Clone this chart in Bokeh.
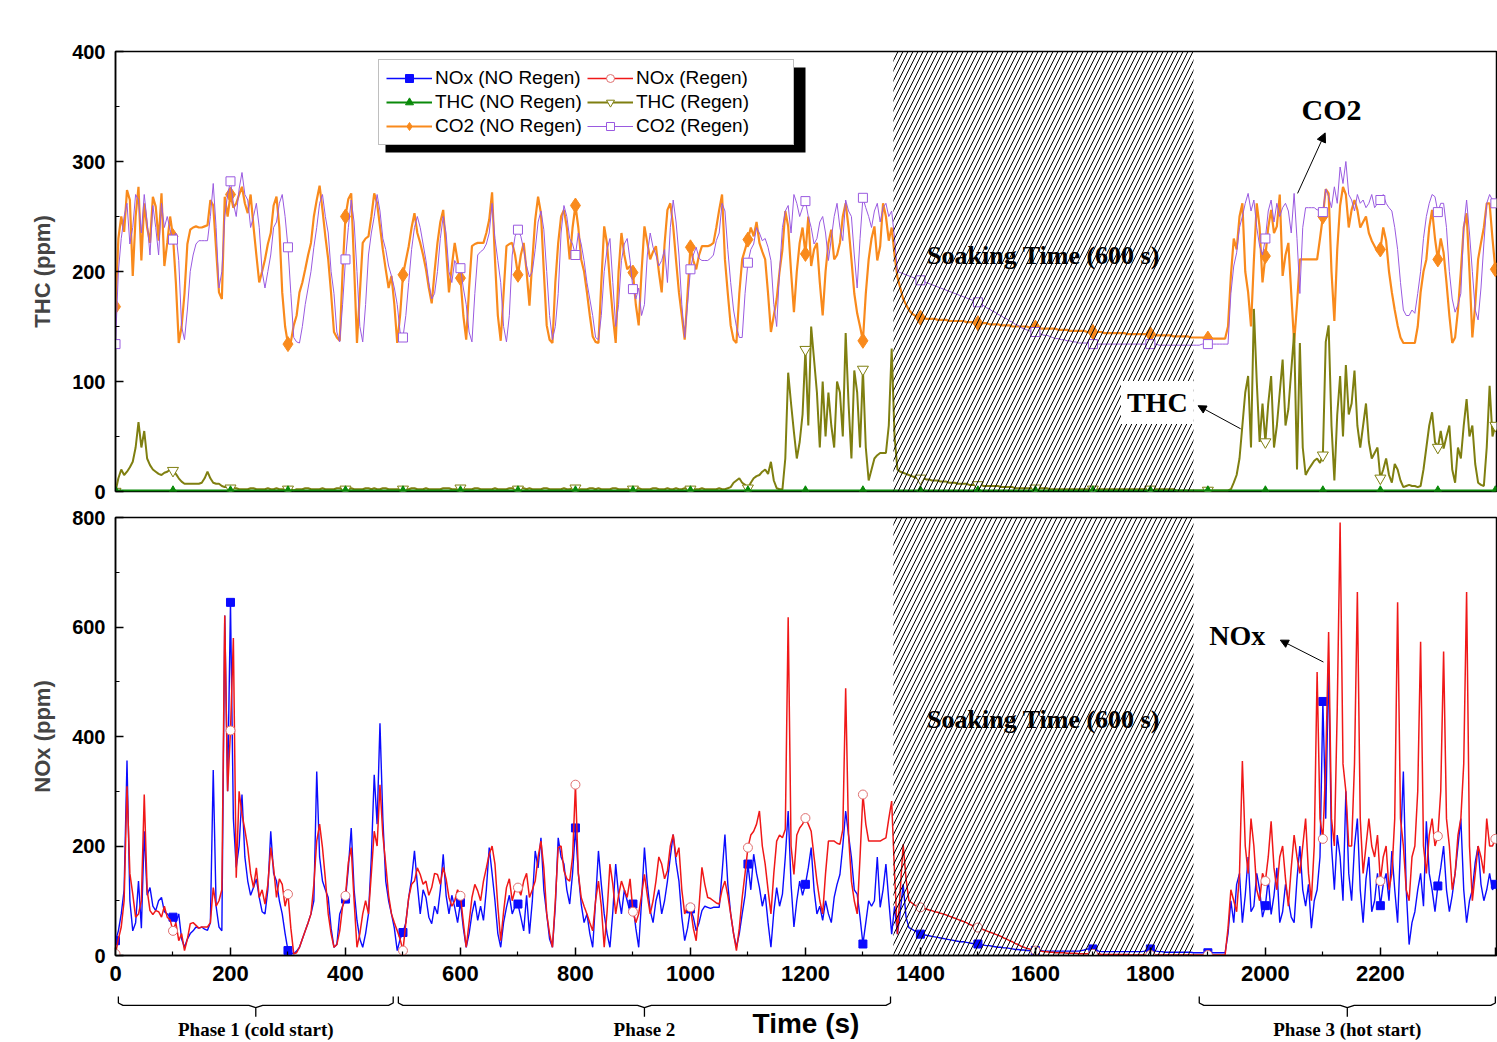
from bokeh.plotting import figure
from bokeh.models import (Range1d, Legend, LegendItem, Label, Arrow, NormalHead,
                          BoxAnnotation, FixedTicker)
from bokeh.layouts import column
from bokeh.embed import file_html
from bokeh.resources import INLINE
from bokeh.core.properties import value

# ---------------- data ----------------
# main samples every 10 s, in-between samples (t = 5, 15, 25 ...) in *_mid
time_s = list(range(0, 2410, 10))

co2_no_regen = [
    168, 250, 274, 196, 277, 262, 226, 259, 271, 226,
    232, 135, 180, 238, 241, 240, 242, 260, 181, 268,
    270, 262, 277, 253, 241, 190, 211, 235, 268, 181,
    134, 151, 181, 202, 226, 265, 256, 211, 145, 137,
    250, 271, 135, 226, 232, 271, 241, 202, 196, 135,
    197, 223, 253, 226, 202, 171, 226, 256, 181, 226,
    194, 138, 223, 226, 226, 247, 211, 137, 223, 226,
    197, 226, 169, 247, 253, 151, 135, 226, 256, 211,
    260, 211, 181, 141, 135, 241, 190, 135, 235, 202,
    199, 151, 241, 211, 223, 181, 256, 241, 181, 138,
    222, 202, 223, 223, 226, 256, 211, 151, 135, 211,
    229, 232, 226, 211, 145, 175, 220, 241, 163, 226,
    216, 205, 226, 160, 226, 211, 226, 262, 211, 162,
    137, 211, 241, 223, 250, 240, 195, 175, 165, 160,
    158, 157, 157, 156, 156, 155, 155, 155, 154, 154,
    153, 153, 152, 152, 151, 151, 150, 150, 150, 149,
    149, 148, 148, 148, 147, 147, 146, 146, 146, 145,
    145, 145, 144, 144, 144, 144, 143, 143, 143, 143,
    143, 142, 142, 142, 141, 141, 141, 140, 140, 140,
    139, 139, 139, 139, 196, 220, 262, 181, 210, 240,
    214, 256, 241, 196, 226, 135, 211, 211, 211, 211,
    250, 271, 155, 260, 270, 256, 256, 245, 235, 223,
    220, 228, 181, 151, 135, 135, 135, 181, 211, 256,
    211, 217, 160, 140, 200, 253, 140, 211, 240, 262,
    202,
]
co2_no_regen_mid = [
    230, 236, 265, 250, 210, 240, 268, 228, 205, 250,
    190, 150, 225, 240, 240, 241, 265, 220, 175, 250,
    258, 270, 262, 270, 215, 200, 225, 260, 240, 150,
    136, 160, 190, 215, 250, 278, 232, 180, 140, 200,
    266, 205, 180, 230, 250, 262, 220, 185, 170, 160,
    210, 240, 235, 215, 185, 200, 245, 220, 205, 210,
    160, 185, 225, 226, 235, 272, 160, 180, 225, 215,
    215, 200, 210, 268, 200, 138, 190, 250, 240, 240,
    240, 200, 160, 136, 190, 225, 160, 200, 215, 205,
    170, 200, 226, 218, 200, 225, 262, 210, 160, 180,
    210, 215, 223, 224, 240, 270, 180, 138, 180, 220,
    240, 245, 218, 180, 160, 200, 255, 200, 200, 240,
    250, 220, 190, 200, 238, 215, 250, 240, 180, 150,
    180, 230, 210, 262, 228, 215, 185, 170, 162, 159,
    158, 157, 157, 156, 156, 155, 155, 155, 154, 154,
    153, 153, 152, 152, 151, 151, 150, 150, 150, 149,
    149, 148, 148, 148, 147, 147, 146, 146, 146, 145,
    145, 145, 144, 144, 144, 144, 143, 143, 143, 143,
    143, 142, 142, 142, 141, 141, 141, 140, 140, 140,
    139, 139, 139, 150, 230, 250, 200, 150, 262, 190,
    240, 235, 270, 215, 180, 170, 211, 211, 211, 230,
    275, 200, 220, 277, 240, 265, 240, 250, 228, 218,
    240, 200, 165, 140, 135, 135, 150, 200, 240, 230,
    230, 190, 135, 165, 240, 200, 170, 226, 262, 230,
]

co2_regen = [
    134, 230, 262, 240, 265, 270, 215, 240, 262, 250,
    229, 210, 138, 200, 225, 228, 228, 280, 185, 250,
    282, 250, 290, 265, 250, 240, 185, 215, 245, 270,
    222, 140, 135, 170, 200, 240, 270, 235, 180, 136,
    211, 265, 200, 136, 215, 250, 255, 220, 196, 170,
    140, 190, 240, 240, 210, 175, 200, 250, 200, 210,
    203, 170, 136, 215, 220, 235, 230, 190, 136, 215,
    238, 220, 195, 220, 255, 200, 138, 180, 260, 230,
    215, 225, 190, 160, 138, 200, 230, 150, 210, 230,
    184, 185, 170, 235, 215, 210, 190, 265, 215, 140,
    202, 222, 210, 210, 215, 235, 255, 190, 150, 140,
    208, 225, 235, 230, 210, 150, 240, 260, 270, 250,
    264, 240, 230, 250, 210, 250, 240, 265, 250, 185,
    267, 250, 255, 245, 262, 255, 200, 198, 196, 194,
    192, 190, 188, 186, 184, 182, 180, 178, 176, 174,
    172, 169, 166, 163, 160, 157, 154, 151, 148, 146,
    145, 143, 142, 140, 139, 138, 137, 136, 135, 135,
    134, 134, 134, 134, 134, 134, 134, 134, 134, 134,
    134, 134, 133, 133, 133, 133, 133, 133, 133, 134,
    134, 134, 134, 134, 180, 217, 250, 271, 265, 223,
    230, 265, 262, 258, 255, 271, 180, 258, 258, 256,
    254, 268, 277, 295, 300, 265, 270, 265, 262, 258,
    265, 262, 255, 220, 165, 160, 162, 200, 250, 270,
    254, 262, 200, 163, 180, 265, 200, 156, 225, 270,
    262,
]
co2_regen_mid = [
    200, 250, 225, 270, 235, 245, 260, 215, 240, 238,
    235, 150, 165, 215, 228, 228, 250, 240, 200, 270,
    262, 275, 270, 240, 262, 200, 200, 240, 262, 250,
    180, 136, 150, 185, 222, 262, 250, 200, 145, 170,
    240, 245, 150, 170, 235, 270, 230, 205, 185, 145,
    160, 220, 250, 225, 190, 180, 230, 235, 190, 205,
    185, 145, 180, 218, 225, 262, 210, 150, 160, 232,
    232, 205, 200, 245, 238, 160, 150, 235, 250, 225,
    235, 210, 175, 140, 160, 220, 190, 170, 225, 210,
    175, 160, 215, 222, 205, 220, 240, 245, 170, 170,
    215, 212, 210, 212, 228, 262, 220, 165, 140, 180,
    220, 240, 228, 222, 170, 200, 255, 235, 262, 258,
    250, 225, 245, 235, 230, 262, 228, 255, 215, 230,
    258, 240, 262, 258, 250, 230, 199, 197, 195, 193,
    191, 189, 187, 185, 183, 181, 179, 177, 175, 173,
    170, 167, 164, 161, 158, 155, 152, 149, 147, 145,
    144, 142, 141, 139, 138, 137, 136, 135, 135, 134,
    134, 134, 134, 134, 134, 134, 134, 134, 134, 134,
    134, 133, 133, 133, 133, 133, 133, 133, 133, 134,
    134, 134, 134, 134, 205, 240, 262, 255, 240, 215,
    255, 245, 250, 262, 235, 230, 240, 258, 258, 256,
    275, 258, 262, 280, 270, 255, 262, 258, 270, 262,
    270, 258, 240, 190, 160, 165, 180, 230, 262, 268,
    262, 240, 175, 170, 240, 235, 165, 185, 262, 265,
]

thc_regen = [
    0, 20, 18, 27, 63, 55, 24, 18, 15, 18,
    19, 12, 7, 7, 7, 8, 18, 8, 7, 4,
    3, 3, 2, 2, 3, 2, 2, 2, 3, 2,
    2, 1, 2, 3, 2, 2, 3, 2, 2, 3,
    2, 3, 2, 2, 3, 3, 2, 3, 2, 2,
    2, 2, 3, 2, 3, 2, 2, 3, 3, 2,
    3, 2, 2, 3, 2, 2, 3, 2, 2, 3,
    2, 3, 3, 2, 2, 3, 2, 2, 3, 2,
    3, 2, 2, 3, 3, 2, 2, 3, 2, 2,
    2, 3, 2, 2, 3, 2, 3, 2, 2, 3,
    2, 2, 3, 2, 2, 3, 2, 4, 10, 8,
    3, 12, 15, 20, 27, 3, 2, 108, 54, 45,
    129, 150, 90, 100, 90, 40, 90, 144, 30, 90,
    111, 10, 30, 35, 35, 130, 20, 17, 15, 13,
    12, 11, 10, 10, 9, 8, 8, 7, 7, 6,
    6, 5, 5, 5, 4, 4, 4, 3, 3, 3,
    3, 3, 3, 2, 2, 2, 2, 2, 2, 2,
    2, 2, 2, 2, 2, 2, 2, 2, 2, 2,
    2, 2, 2, 2, 2, 1, 1, 1, 1, 1,
    1, 1, 1, 1, 2, 15, 60, 105, 166, 45,
    45, 105, 60, 120, 75, 144, 135, 15, 24, 30,
    33, 151, 10, 105, 115, 80, 60, 60, 45, 35,
    12, 30, 8, 20, 4, 6, 5, 5, 40, 72,
    40, 39, 60, 8, 30, 84, 60, 8, 5, 96,
    60,
]
thc_regen_mid = [
    12, 15, 22, 40, 40, 30, 20, 16, 17, 20,
    16, 9, 7, 7, 7, 12, 12, 7, 5, 4,
    3, 2, 2, 3, 2, 2, 3, 2, 2, 2,
    2, 2, 2, 3, 2, 2, 2, 2, 3, 2,
    2, 2, 2, 3, 2, 2, 3, 2, 2, 2,
    2, 3, 2, 2, 2, 2, 2, 3, 2, 2,
    2, 2, 3, 2, 2, 2, 2, 2, 3, 2,
    3, 2, 2, 2, 3, 2, 2, 2, 2, 3,
    2, 2, 3, 2, 2, 2, 3, 2, 2, 2,
    2, 2, 2, 3, 2, 2, 2, 3, 2, 2,
    2, 2, 2, 2, 2, 2, 3, 8, 12, 6,
    8, 14, 18, 16, 10, 2, 30, 80, 30, 70,
    60, 120, 40, 50, 60, 100, 50, 80, 110, 40,
    40, 20, 33, 35, 60, 50, 18, 16, 14, 12,
    12, 11, 10, 9, 9, 8, 7, 7, 6, 6,
    6, 5, 5, 5, 4, 4, 3, 3, 3, 3,
    3, 3, 2, 2, 2, 2, 2, 2, 2, 2,
    2, 2, 2, 2, 2, 2, 2, 2, 2, 2,
    2, 2, 2, 2, 1, 1, 1, 1, 1, 1,
    1, 1, 1, 1, 8, 30, 90, 40, 100, 80,
    80, 40, 90, 60, 110, 20, 40, 20, 28, 26,
    136, 60, 70, 50, 70, 110, 40, 80, 30, 40,
    20, 15, 25, 10, 5, 5, 4, 20, 60, 45,
    55, 50, 20, 40, 60, 50, 25, 6, 40, 50,
]

thc_no_regen_time = list(range(0, 2410, 100))
thc_no_regen = [1, 1, 1, 1, 1, 1, 1, 1, 1, 1, 1, 1, 1,
                1, 1, 1, 1, 1, 1, 1, 1, 1, 1, 1, 1]

nox_no_regen = [
    27, 76, 356, 45, 136, 227, 124, 82, 106, 76,
    70, 76, 15, 40, 52, 52, 46, 339, 52, 621,
    645, 161, 294, 136, 124, 106, 76, 227, 136, 76,
    9, 3, 15, 45, 76, 336, 136, 106, 15, 76,
    103, 233, 64, 15, 76, 330, 424, 136, 76, 9,
    42, 106, 191, 76, 106, 58, 76, 185, 76, 88,
    97, 15, 76, 64, 64, 197, 100, 15, 88, 76,
    94, 45, 40, 191, 215, 76, 15, 215, 167, 94,
    233, 94, 76, 15, 191, 76, 15, 167, 76, 100,
    94, 15, 197, 82, 100, 76, 136, 221, 136, 27,
    85, 45, 82, 88, 88, 88, 221, 76, 15, 76,
    167, 185, 124, 112, 15, 124, 112, 264, 52, 136,
    130, 197, 76, 64, 76, 106, 148, 264, 179, 112,
    21, 100, 100, 88, 167, 39, 39, 130, 51, 45,
    39, 37, 35, 33, 31, 29, 27, 25, 24, 22,
    21, 19, 18, 16, 15, 14, 12, 11, 10, 9,
    9, 9, 8, 8, 8, 8, 8, 8, 9, 12,
    12, 8, 7, 7, 7, 7, 7, 7, 7, 8,
    12, 8, 7, 6, 6, 6, 6, 6, 5, 5,
    5, 5, 5, 5, 100, 130, 60, 180, 90, 120,
    91, 75, 160, 80, 100, 60, 200, 90, 50, 120,
    464, 537, 120, 180, 300, 100, 250, 60, 180, 100,
    91, 150, 191, 60, 336, 20, 80, 150, 245, 120,
    127, 200, 80, 150, 250, 60, 120, 200, 100, 150,
    130,
]
nox_no_regen_mid = [
    45, 120, 100, 60, 50, 110, 90, 100, 80, 70,
    60, 30, 30, 45, 50, 48, 60, 90, 45, 300,
    250, 200, 180, 110, 140, 80, 120, 150, 100, 40,
    5, 8, 30, 60, 100, 180, 120, 50, 20, 90,
    160, 120, 30, 40, 180, 240, 250, 100, 50, 30,
    60, 140, 130, 120, 70, 90, 120, 110, 110, 60,
    50, 40, 100, 90, 120, 150, 40, 60, 110, 90,
    70, 110, 100, 160, 120, 30, 90, 180, 120, 150,
    150, 60, 40, 100, 130, 40, 80, 110, 120, 80,
    50, 100, 130, 60, 120, 100, 180, 170, 70, 50,
    70, 60, 90, 86, 88, 150, 130, 40, 40, 110,
    120, 150, 90, 60, 80, 90, 180, 130, 100, 110,
    160, 120, 90, 100, 60, 130, 200, 220, 120, 70,
    60, 90, 180, 120, 100, 90, 80, 70, 48, 42,
    38, 36, 34, 32, 30, 28, 26, 25, 23, 22,
    20, 18, 17, 15, 14, 13, 11, 10, 9, 9,
    9, 8, 8, 8, 8, 8, 8, 8, 10, 12,
    10, 7, 7, 7, 7, 7, 7, 7, 7, 10,
    10, 7, 6, 6, 6, 6, 6, 5, 5, 5,
    5, 5, 5, 40, 60, 150, 110, 80, 150, 70,
    140, 110, 60, 130, 70, 140, 120, 130, 100, 180,
    250, 200, 220, 100, 150, 200, 120, 140, 80, 150,
    130, 100, 120, 200, 120, 60, 120, 90, 150, 80,
    160, 120, 110, 200, 120, 100, 170, 130, 120, 120,
]

nox_regen = [
    3, 52, 309, 112, 76, 294, 82, 82, 70, 70,
    45, 27, 9, 58, 55, 52, 52, 124, 100, 621,
    411, 142, 258, 197, 124, 106, 94, 197, 106, 130,
    112, 3, 15, 45, 76, 209, 197, 76, 15, 45,
    109, 197, 15, 76, 76, 227, 312, 167, 76, 45,
    9, 106, 136, 148, 136, 124, 148, 161, 106, 100,
    109, 15, 106, 118, 136, 185, 167, 27, 124, 100,
    124, 136, 106, 136, 209, 76, 15, 197, 155, 136,
    312, 106, 76, 45, 136, 15, 167, 76, 136, 106,
    80, 76, 148, 76, 136, 167, 155, 221, 197, 76,
    88, 27, 161, 106, 100, 94, 136, 76, 9, 106,
    197, 227, 264, 167, 76, 209, 215, 618, 148, 233,
    251, 227, 136, 76, 209, 209, 203, 488, 136, 76,
    294, 209, 209, 209, 215, 282, 39, 203, 100, 92,
    88, 85, 82, 79, 76, 72, 68, 64, 60, 55,
    51, 47, 43, 39, 35, 30, 25, 20, 15, 12,
    9, 8, 7, 6, 5, 5, 4, 4, 3, 3,
    3, 3, 2, 2, 2, 2, 2, 1, 1, 1,
    1, 1, 1, 1, 1, 1, 1, 1, 1, 1,
    1, 1, 1, 1, 120, 80, 355, 150, 200, 100,
    136, 245, 120, 200, 90, 220, 150, 250, 100, 518,
    213, 591, 200, 791, 300, 200, 664, 150, 250, 180,
    136, 200, 150, 645, 200, 100, 200, 573, 150, 250,
    218, 555, 200, 150, 250, 664, 100, 200, 150, 200,
    213,
]
nox_regen_mid = [
    30, 100, 150, 70, 100, 120, 75, 80, 90, 65,
    60, 40, 30, 60, 50, 52, 60, 90, 120, 300,
    580, 300, 230, 150, 160, 120, 130, 160, 140, 90,
    50, 5, 30, 60, 130, 240, 140, 40, 20, 90,
    170, 100, 40, 100, 150, 200, 220, 110, 60, 30,
    60, 130, 160, 130, 110, 150, 130, 140, 90, 120,
    60, 60, 130, 100, 160, 200, 90, 80, 140, 120,
    110, 150, 120, 180, 160, 40, 100, 200, 140, 180,
    150, 90, 60, 100, 90, 80, 130, 110, 120, 140,
    60, 110, 110, 100, 180, 140, 200, 180, 120, 90,
    50, 90, 130, 104, 96, 120, 110, 40, 50, 150,
    220, 240, 200, 120, 150, 220, 230, 200, 220, 240,
    240, 180, 100, 150, 209, 205, 230, 220, 100, 180,
    240, 209, 209, 212, 250, 150, 120, 140, 96, 90,
    86, 83, 80, 77, 74, 70, 66, 62, 57, 53,
    49, 45, 41, 37, 32, 27, 22, 17, 13, 10,
    8, 7, 6, 5, 5, 4, 4, 3, 3, 3,
    3, 2, 2, 2, 2, 2, 1, 1, 1, 1,
    1, 1, 1, 1, 1, 1, 1, 1, 1, 1,
    1, 1, 1, 50, 100, 150, 200, 250, 120, 150,
    180, 160, 180, 140, 160, 180, 200, 150, 200, 250,
    350, 250, 450, 350, 200, 350, 250, 200, 200, 220,
    180, 120, 250, 250, 120, 180, 300, 200, 220, 200,
    300, 250, 120, 220, 350, 200, 150, 180, 250, 200,
]

soak_start, soak_end = 1353, 1875
phase_labels = ["Phase 1 (cold start)", "Phase 2", "Phase 3 (hot start)"]
phase_start = [5, 492, 1885]
phase_end = [483, 1348, 2400]
x_ticks = list(range(0, 2401, 200))
x_minor = list(range(100, 2400, 200))
thc_ticks = [0, 100, 200, 300, 400]
thc_minor = [50, 150, 250, 350]
nox_ticks = [0, 200, 400, 600, 800]
nox_minor = [100, 300, 500, 700]

for nm, arr in [("co2_no_regen", co2_no_regen), ("co2_regen", co2_regen),
                ("thc_regen", thc_regen), ("nox_no_regen", nox_no_regen),
                ("nox_regen", nox_regen)]:
    if len(arr) != len(time_s):
        raise ValueError(f"{nm} has {len(arr)} values, expected {len(time_s)}")
for nm, arr in [("co2_no_regen_mid", co2_no_regen_mid), ("co2_regen_mid", co2_regen_mid),
                ("thc_regen_mid", thc_regen_mid),
                ("nox_no_regen_mid", nox_no_regen_mid), ("nox_regen_mid", nox_regen_mid)]:
    if len(arr) != len(time_s) - 1:
        raise ValueError(f"{nm} has {len(arr)} values, expected {len(time_s) - 1}")


def weave(main, mid):
    """Merge the 10-s samples with the in-between samples (time order)."""
    out = []
    for a, b in zip(main[:-1], mid):
        out.extend([a, b])
    out.append(main[-1])
    return out


time_fine = list(range(0, 2401, 5))

# ---------------- styling ----------------
BLUE = "#0b0bff"
RED = "#f01818"
GREEN = "#0a8a0a"
OLIVE = "#7f7f10"
ORANGE = "#f98a1c"
PURPLE = "#9a5ae0"
SANS = "Liberation Sans"
SERIF = "Liberation Serif"

W = 1497
LEFT = 115
RIGHT = 1
X_END = 2402
x_range = Range1d(0, X_END)
PX_PER_S = (W - LEFT - RIGHT) / X_END

TOP_FRAME_TOP, TOP_FRAME_H = 51, 440       # top panel frame (px)
TOP_PX_PER_UNIT = TOP_FRAME_H / 400
TOP_FRAME_BOTTOM = TOP_FRAME_TOP + TOP_FRAME_H

marker_idx = [i for i, t in enumerate(time_s) if t % 100 == 0]


def pick(arr):
    return [arr[i] for i in marker_idx]


mt = pick(time_s)


def style_axis(ax, label, ticks, minor, overrides=None, label_size="20px"):
    ax.ticker = FixedTicker(ticks=ticks, minor_ticks=minor)
    ax.axis_label = label
    ax.axis_label_text_font = SANS
    ax.axis_label_text_font_style = "bold"
    ax.axis_label_text_font_size = "22px"
    ax.axis_label_standoff = 14
    ax.major_label_text_font = SANS
    ax.major_label_text_font_style = "bold"
    ax.major_label_text_font_size = label_size
    ax.major_label_text_color = "black"
    ax.major_label_standoff = 10
    ax.axis_line_width = 1.5
    ax.major_tick_line_width = 1.5
    ax.minor_tick_line_width = 1.2
    ax.major_tick_in = 8
    ax.major_tick_out = 0
    ax.minor_tick_in = 4
    ax.minor_tick_out = 0
    if overrides:
        ax.major_label_overrides = overrides


def top_x(px):
    return (px - LEFT) / PX_PER_S


def top_y(py):
    return (TOP_FRAME_BOTTOM - py) / TOP_PX_PER_UNIT


def note(p, x, y, text, size, **kw):
    p.add_layout(Label(x=x, y=y, text=text, text_font=SERIF, text_font_style="bold",
                       text_font_size=size, text_color="black", text_align="center",
                       text_baseline="middle", **kw))


# ---------------- top panel: THC / CO2 ----------------
p1 = figure(width=W, height=504, x_range=x_range, y_range=Range1d(0, 400),
            x_axis_location=None, title=None,
            output_backend="svg", toolbar_location=None,
            min_border_left=LEFT, min_border_right=RIGHT,
            min_border_top=TOP_FRAME_TOP, min_border_bottom=504 - TOP_FRAME_BOTTOM)
p1.grid.visible = False
p1.outline_line_color = "black"
p1.outline_line_width = 1.5
p1.outline_line_alpha = 1
style_axis(p1.yaxis[0], "THC (ppm)", thc_ticks, thc_minor)

# legend shadow (black box offset behind the legend frame)
p1.quad(left=top_x(385), right=top_x(805), top=top_y(67), bottom=top_y(152),
        fill_color="black", line_color=None)

r_co2n = p1.line(time_fine, weave(co2_no_regen, co2_no_regen_mid), color=ORANGE, line_width=2.2)
s_co2n = p1.scatter(mt, pick(co2_no_regen), marker="diamond", size=15,
                    fill_color=ORANGE, line_color=ORANGE)
r_co2r = p1.line(time_fine, weave(co2_regen, co2_regen_mid), color=PURPLE, line_width=1)
s_co2r = p1.scatter(mt, pick(co2_regen), marker="square", size=9,
                    fill_color="white", line_color=PURPLE)
r_thcr = p1.line(time_fine, weave(thc_regen, thc_regen_mid), color=OLIVE, line_width=2)
s_thcr = p1.scatter(mt, pick(thc_regen), marker="inverted_triangle", size=11,
                    fill_color="white", line_color=OLIVE)
r_thcn = p1.line(thc_no_regen_time, thc_no_regen, color=GREEN, line_width=2)
s_thcn = p1.scatter(thc_no_regen_time, thc_no_regen, marker="triangle", size=8,
                    fill_color=GREEN, line_color=GREEN)

# legend-only stand-ins for the NOx series (those are drawn in the lower panel);
# their points lie outside the visible range
d_noxn = p1.line([-200, -100], [-100, -100], color=BLUE, line_width=1.5)
ds_noxn = p1.scatter([-150], [-100], marker="square", size=8, fill_color=BLUE, line_color=BLUE)
d_noxr = p1.line([-200, -100], [-100, -100], color=RED, line_width=1.5)
ds_noxr = p1.scatter([-150], [-100], marker="circle", size=9, fill_color="white",
                     line_color="#e07070")

p1.add_layout(BoxAnnotation(left=soak_start, right=soak_end, fill_color=None, line_alpha=0,
                            hatch_pattern="/", hatch_color="black", hatch_weight=1,
                            hatch_scale=10, hatch_alpha=1))
note(p1, (soak_start + soak_end) / 2, 215, "Soaking Time (600 s)", "26px", level="overlay")
note(p1, 2115, 347, "CO2", "30px")
p1.add_layout(Arrow(x_start=2056, y_start=271, x_end=2104, y_end=326, line_width=1,
                    end=NormalHead(size=9, fill_color="black", line_color="black")))
note(p1, 1812, 81, "THC", "28px", background_fill_color="white", padding=6, level="overlay")
p1.add_layout(Arrow(x_start=1957, y_start=57, x_end=1883, y_end=78, line_width=1,
                    end=NormalHead(size=8, fill_color="black", line_color="black")))

items = [
    LegendItem(label="NOx (NO Regen)", renderers=[d_noxn, ds_noxn]),
    LegendItem(label="NOx (Regen)", renderers=[d_noxr, ds_noxr]),
    LegendItem(label="THC (NO Regen)", renderers=[r_thcn, s_thcn]),
    LegendItem(label="THC (Regen)", renderers=[r_thcr, s_thcr]),
    LegendItem(label="CO2 (NO Regen)", renderers=[r_co2n, s_co2n]),
    LegendItem(label="CO2 (Regen)", renderers=[r_co2r, s_co2r]),
]
legend = Legend(items=items, location=(378 - LEFT, TOP_FRAME_BOTTOM - 145),
                orientation="horizontal", ncols=2,
                label_text_font=SANS, label_text_font_size="19px", label_text_color="black",
                glyph_width=46, glyph_height=20, label_height=20, label_standoff=3,
                label_width=150, spacing=2, padding=7, margin=0,
                border_line_color="#808080", border_line_width=1,
                background_fill_color="white", background_fill_alpha=1)
p1.add_layout(legend)

# ---------------- bottom panel: NOx ----------------
p2 = figure(width=W, height=491, x_range=x_range, y_range=Range1d(0, 800),
            title=None, output_backend="svg", toolbar_location=None,
            min_border_left=LEFT, min_border_right=RIGHT,
            min_border_top=13, min_border_bottom=40)
p2.grid.visible = False
p2.outline_line_color = "black"
p2.outline_line_width = 1.5
p2.outline_line_alpha = 1
style_axis(p2.yaxis[0], "NOx (ppm)", nox_ticks, nox_minor)
style_axis(p2.xaxis[0], None, x_ticks, x_minor, {2400: ""}, label_size="22px")

p2.line(time_fine, weave(nox_no_regen, nox_no_regen_mid), color=BLUE, line_width=1.4)
p2.scatter(mt, pick(nox_no_regen), marker="square", size=8, fill_color=BLUE, line_color=BLUE)
p2.line(time_fine, weave(nox_regen, nox_regen_mid), color=RED, line_width=1.5)
p2.scatter(mt, pick(nox_regen), marker="circle", size=9, fill_color="white",
           line_color="#e07070")

p2.add_layout(BoxAnnotation(left=soak_start, right=soak_end, fill_color=None, line_alpha=0,
                            hatch_pattern="/", hatch_color="black", hatch_weight=1,
                            hatch_scale=10, hatch_alpha=1))
note(p2, (soak_start + soak_end) / 2, 431, "Soaking Time (600 s)", "26px", level="overlay")
note(p2, 1951, 585, "NOx", "28px")
p2.add_layout(Arrow(x_start=2101, y_start=536, x_end=2026, y_end=576, line_width=1,
                    end=NormalHead(size=8, fill_color="black", line_color="black")))

# ---------------- phase braces + time label ----------------
p3 = figure(width=W, height=47, x_range=x_range, y_range=Range1d(0, 1),
            x_axis_location=None, y_axis_location=None, title=None,
            output_backend="svg", toolbar_location=None,
            min_border_left=LEFT, min_border_right=RIGHT,
            min_border_top=0, min_border_bottom=0)
p3.grid.visible = False
p3.outline_line_color = None

bx, by, mids = [], [], []
for a, b in zip(phase_start, phase_end):
    m = (a + b) / 2
    mids.append(m)
    bx.append([a, a, a + 8, m - 12, m, m, m, m + 12, b - 8, b, b])
    by.append([0.98, 0.84, 0.79, 0.79, 0.74, 0.55, 0.74, 0.79, 0.79, 0.84, 0.98])
p3.multi_line(bx, by, line_color="black", line_width=1.3)
p3.text(x=mids, y=[0.49] * len(mids), text=phase_labels,
        text_font=value(SERIF), text_font_style="bold", text_font_size="19px",
        text_align="center", text_baseline="top")
p3.add_layout(Label(x=X_END / 2, y=0.40, text="Time (s)", text_font=SANS,
                    text_font_style="bold", text_font_size="28px", text_color="black",
                    text_align="center", text_baseline="middle"))

layout = column(p1, p2, p3, spacing=0)
open("out.html", "w").write(file_html(layout, INLINE))
